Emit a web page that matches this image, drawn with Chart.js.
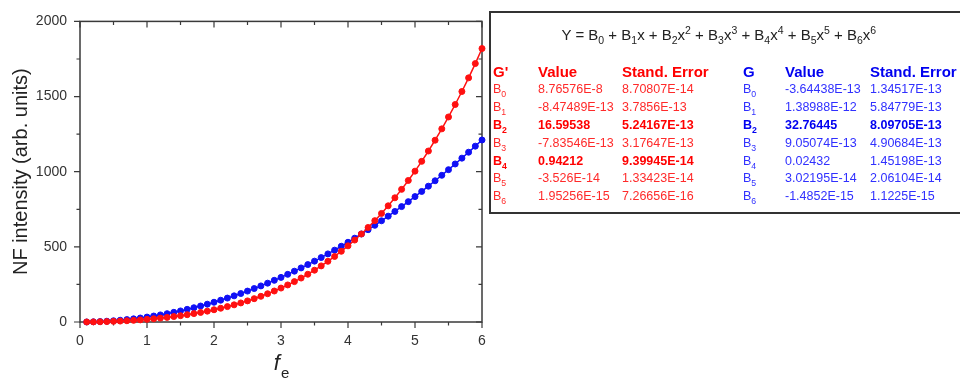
<!DOCTYPE html>
<html>
<head>
<meta charset="utf-8">
<script src="https://cdn.jsdelivr.net/npm/chart.js@4"></script>
<style>
  html, body { margin: 0; padding: 0; background: #fff; }
  #wrap { position: relative; width: 960px; height: 385px; overflow: hidden; font-family: Arial, "Liberation Sans", sans-serif; }
  #c { position: absolute; left: 0; top: 0; }
  .box { position: absolute; left: 489px; top: 11px; width: 490px; height: 203px; border: 2px solid #333; box-sizing: border-box; }
  .t { position: absolute; white-space: nowrap; line-height: 16px; height: 16px; }
  .eq { font-size: 15px; color: #222; }
  .hd { font-size: 15px; font-weight: bold; }
  .rw { font-size: 12.5px; }
  .b { font-weight: bold; }
  .red { color: #ff2a2a; }
  .redb { color: #ff0000; }
  .blu { color: #3030ff; }
  .blub { color: #0000f0; }
  sub, sup { font-size: 70%; line-height: 0; }
</style>
</head>
<body>
<div id="wrap">
  <canvas id="c" width="960" height="385"></canvas>
  <div class="box"></div>
  <div id="tbl"></div>
</div>
<script>
// ---- data ----
const fe = [0.1,0.2,0.3,0.4,0.5,0.6,0.7,0.8,0.9,1.0,
            1.1,1.2,1.3,1.4,1.5,1.6,1.7,1.8,1.9,2.0,
            2.1,2.2,2.3,2.4,2.5,2.6,2.7,2.8,2.9,3.0,
            3.1,3.2,3.3,3.4,3.5,3.6,3.7,3.8,3.9,4.0,
            4.1,4.2,4.3,4.4,4.5,4.6,4.7,4.8,4.9,5.0,
            5.1,5.2,5.3,5.4,5.5,5.6,5.7,5.8,5.9,6.0];
const gPrime = [0.2,0.7,1.5,2.7,4.2,6.1,8.4,11.0,14.1,17.5,
                21.5,25.9,30.7,36.2,42.1,48.7,55.8,63.7,72.2,81.5,
                91.5,102.4,114.2,126.9,140.5,155.2,171.0,188.0,206.2,225.7,
                246.5,268.7,292.4,317.7,344.6,373.3,403.8,436.1,470.5,506.7,
                545.2,585.8,628.9,674.4,722.4,773.0,826.3,882.5,941.6,1003.7,
                1069.0,1137.6,1209.5,1285.0,1364.1,1447.0,1533.7,1624.4,1719.4,1819.4];
const g = [0.3,1.3,3.0,5.2,8.2,11.8,16.1,21.0,26.6,32.8,
           39.7,47.2,55.4,64.3,73.8,84.0,94.9,106.4,118.6,131.5,
           145.0,159.2,174.0,189.5,205.7,222.6,240.1,258.4,277.3,296.9,
           317.1,338.1,359.7,382.0,405.0,428.7,453.1,478.2,504.0,530.5,
           557.6,585.5,614.1,643.4,673.5,704.2,735.6,767.8,800.7,834.3,
           868.7,903.7,939.6,976.1,1013.4,1051.4,1090.2,1129.7,1170.0,1211.0];
const xTicks = [0,1,2,3,4,5,6];
const yTicks = [0,500,1000,1500,2000];

// fit table
const coefNames = ['0','1','2','3','4','5','6'];
const gpValues = ['8.76576E-8','-8.47489E-13','16.59538','-7.83546E-13','0.94212','-3.526E-14','1.95256E-15'];
const gpErrors = ['8.70807E-14','3.7856E-13','5.24167E-13','3.17647E-13','9.39945E-14','1.33423E-14','7.26656E-16'];
const gpBold = [false,false,true,false,true,false,false];
const gValues = ['-3.64438E-13','1.38988E-12','32.76445','9.05074E-13','0.02432','3.02195E-14','-1.4852E-15'];
const gErrors = ['1.34517E-13','5.84779E-13','8.09705E-13','4.90684E-13','1.45198E-13','2.06104E-14','1.1225E-15'];
const gBold = [false,false,true,false,false,false,false];

// ---- table (HTML text) ----
(function(){
  const T = document.getElementById('tbl');
  function add(x, yc, cls, html){
    const d = document.createElement('div');
    d.className = 't ' + cls;
    d.style.left = x + 'px';
    d.style.top = (yc - 8) + 'px';
    d.innerHTML = html;
    T.appendChild(d);
    return d;
  }
  const eq = add(0, 35, 'eq', 'Y = B<sub>0</sub> + B<sub>1</sub>x + B<sub>2</sub>x<sup>2</sup> + B<sub>3</sub>x<sup>3</sup> + B<sub>4</sub>x<sup>4</sup> + B<sub>5</sub>x<sup>5</sup> + B<sub>6</sub>x<sup>6</sup>');
  eq.style.left = (719 - eq.offsetWidth/2) + 'px';
  add(493, 72, 'hd redb', "G'");
  add(538, 72, 'hd redb', 'Value');
  add(622, 72, 'hd redb', 'Stand. Error');
  add(743, 72, 'hd blub', 'G');
  add(785, 72, 'hd blub', 'Value');
  add(870, 72, 'hd blub', 'Stand. Error');
  const rows = [89,107,125,143,161,178,196];
  for (let i = 0; i < 7; i++) {
    const rc = gpBold[i] ? 'rw b redb' : 'rw red';
    const bc = gBold[i] ? 'rw b blub' : 'rw blu';
    add(493, rows[i], rc, 'B<sub>' + coefNames[i] + '</sub>');
    add(538, rows[i], rc, gpValues[i]);
    add(622, rows[i], rc, gpErrors[i]);
    add(743, rows[i], bc, 'B<sub>' + coefNames[i] + '</sub>');
    add(785, rows[i], bc, gValues[i]);
    add(870, rows[i], bc, gErrors[i]);
  }
})();

// ---- chart ----
const AX = '#3a3a3a';
const framePlugin = {
  id: 'frame',
  beforeDatasetsDraw(chart) {
    const {ctx, chartArea: a, scales: {x, y}} = chart;
    ctx.save();
    ctx.strokeStyle = AX;
    ctx.lineWidth = 1.5;
    ctx.strokeRect(a.left, a.top, a.right - a.left, a.bottom - a.top);
    ctx.lineWidth = 1.2;
    ctx.beginPath();
    for (let v = 0; v <= 6.001; v += 0.5) {
      const px = x.getPixelForValue(v);
      const major = Math.abs(v - Math.round(v)) < 1e-6;
      const L = major ? 6 : 3.5;
      ctx.moveTo(px, a.bottom); ctx.lineTo(px, a.bottom + L);
      ctx.moveTo(px, a.top); ctx.lineTo(px, a.top + L);
    }
    for (let v = 0; v <= 2000.1; v += 250) {
      const py = y.getPixelForValue(v);
      const major = v % 500 === 0;
      const L = major ? 6 : 3.5;
      ctx.moveTo(a.left, py); ctx.lineTo(a.left - L, py);
      ctx.moveTo(a.right, py); ctx.lineTo(a.right - L, py);
    }
    ctx.stroke();
    // axis titles
    ctx.fillStyle = '#222';
    ctx.save();
    ctx.translate(21, (a.top + a.bottom) / 2);
    ctx.rotate(-Math.PI / 2);
    ctx.font = '20px Arial, "Liberation Sans"';
    ctx.textAlign = 'center';
    ctx.textBaseline = 'middle';
    ctx.fillText('NF intensity (arb. units)', 0, 0);
    ctx.restore();
    const cx = (a.left + a.right) / 2;
    ctx.font = 'italic 22px Arial, "Liberation Sans"';
    const wf = ctx.measureText('f').width;
    ctx.font = '15px Arial, "Liberation Sans"';
    const we = ctx.measureText('e').width;
    const x0 = cx - (wf + we) / 2;
    ctx.textAlign = 'left';
    ctx.textBaseline = 'alphabetic';
    ctx.font = 'italic 22px Arial, "Liberation Sans"';
    ctx.fillText('f', x0, 370);
    ctx.font = '15px Arial, "Liberation Sans"';
    ctx.fillText('e', x0 + wf + 1, 378);
    ctx.restore();
  }
};

const RED = '#ff1010';
const BLUE = '#1010f5';
const numFmt = v => String(v);
new Chart(document.getElementById('c'), {
  type: 'line',
  data: {
    datasets: [
      { label: "G'", data: fe.map((v, i) => ({x: v, y: gPrime[i]})), borderColor: RED, backgroundColor: RED,
        pointBackgroundColor: RED, pointBorderColor: RED, pointRadius: 3, pointBorderWidth: 1, borderWidth: 1.5, tension: 0, clip: false },
      { label: 'G', data: fe.map((v, i) => ({x: v, y: g[i]})), borderColor: BLUE, backgroundColor: BLUE,
        pointBackgroundColor: BLUE, pointBorderColor: BLUE, pointRadius: 3, pointBorderWidth: 1, borderWidth: 1.5, tension: 0, clip: false }
    ]
  },
  options: {
    responsive: false,
    animation: false,
    devicePixelRatio: 1,
    layout: { padding: { top: 11, right: 478, bottom: 0, left: 0 } },
    plugins: { legend: { display: false }, tooltip: { enabled: false } },
    scales: {
      x: {
        type: 'linear', min: 0, max: 6,
        afterBuildTicks(s) { s.ticks = xTicks.map(v => ({value: v})); },
        afterFit(s) { s.height = 63; },
        grid: { display: false, drawTicks: false },
        border: { display: false },
        ticks: { color: '#333', font: { size: 14, family: 'Arial, "Liberation Sans"' }, padding: 11, maxRotation: 0, callback: numFmt }
      },
      y: {
        type: 'linear', min: 0, max: 2000,
        afterBuildTicks(s) { s.ticks = yTicks.map(v => ({value: v})); },
        afterFit(s) { s.width = 80; },
        grid: { display: false, drawTicks: false },
        border: { display: false },
        ticks: { color: '#333', font: { size: 14, family: 'Arial, "Liberation Sans"' }, padding: 13, callback: numFmt }
      }
    }
  },
  plugins: [framePlugin]
});
</script>
</body>
</html>
